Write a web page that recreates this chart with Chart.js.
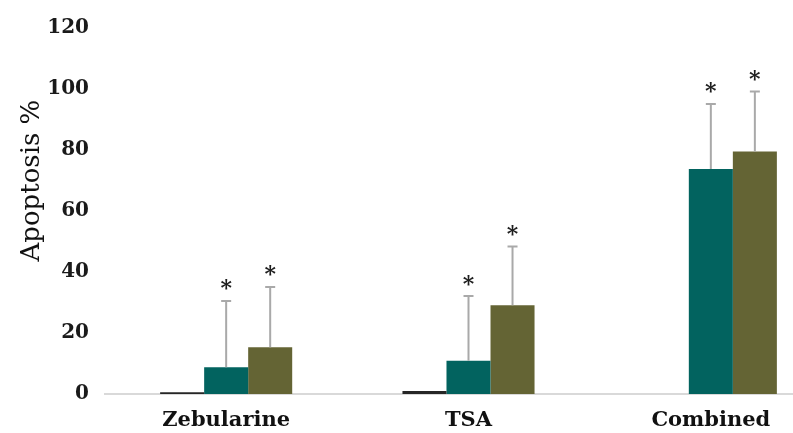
<!DOCTYPE html>
<html>
<head>
<meta charset="utf-8">
<script src="https://cdn.jsdelivr.net/npm/chart.js@4"></script>
<style>
  html, body { margin: 0; padding: 0; background: #fff; overflow: hidden; width: 793px; height: 433px; }
  #wrap { width: 793px; height: 433px; overflow: hidden; position: relative; }
  canvas { display: block; }
</style>
</head>
<body>
<div id="wrap"><canvas id="c" width="832" height="433"></canvas></div>
<script>
// Apoptosis (%) per treatment, three series per treatment
const categories = ['Zebularine', 'TSA', 'Combined'];
const controlValues = [0.6, 1.0, 0];
const lowDoseValues = [8.8, 10.9, 73.8];
const highDoseValues = [15.3, 29.1, 79.5];
// upper error (SD) for each bar
const lowDoseErrors = [21.7, 21.2, 21.3];
const highDoseErrors = [19.8, 19.3, 19.7];
// significance marks above the error bars
const lowDoseMarks = ['*', '*', '*'];
const highDoseMarks = ['*', '*', '*'];
const yTicks = [0, 20, 40, 60, 80, 100, 120];

const serif = '"DejaVu Serif", "Liberation Serif", serif';

// upper-only error bars with a cap, plus the significance mark above each cap
const errorBars = {
  id: 'errorBars',
  afterDatasetsDraw(chart) {
    const { ctx } = chart;
    const y = chart.scales.y;
    chart.data.datasets.forEach((ds, i) => {
      if (!ds.errors) return;
      const meta = chart.getDatasetMeta(i);
      meta.data.forEach((bar, j) => {
        const base = y.getPixelForValue(ds.data[j]);
        const top = y.getPixelForValue(ds.data[j] + ds.errors[j]);
        ctx.save();
        ctx.strokeStyle = '#a9a9a9';
        ctx.lineWidth = 2;
        ctx.beginPath();
        ctx.moveTo(bar.x, base);
        ctx.lineTo(bar.x, top);
        ctx.moveTo(bar.x - 5, top);
        ctx.lineTo(bar.x + 5, top);
        ctx.stroke();
        if (ds.marks && ds.marks[j]) {
          ctx.fillStyle = '#1e1e1e';
          ctx.font = 'bold 22px ' + serif;
          ctx.textAlign = 'center';
          ctx.textBaseline = 'alphabetic';
          const m = ctx.measureText(ds.marks[j]);
          // centre the glyph itself about 16px above the cap
          const mid = (m.actualBoundingBoxAscent - m.actualBoundingBoxDescent) / 2;
          ctx.fillText(ds.marks[j], bar.x, top - 16 + mid);
        }
        ctx.restore();
      });
    });
  }
};

// rotated y-axis title, set a little above the middle of the plot
const yTitle = {
  id: 'yTitle',
  afterDraw(chart) {
    const { ctx, chartArea } = chart;
    const cy = chartArea.top + (chartArea.bottom - chartArea.top) * 0.417;
    ctx.save();
    ctx.translate(32, cy);
    ctx.rotate(-Math.PI / 2);
    ctx.fillStyle = '#111';
    ctx.font = '26px ' + serif;
    ctx.textAlign = 'center';
    ctx.textBaseline = 'middle';
    ctx.fillText('Apoptosis %', 0, 0);
    ctx.restore();
  }
};

new Chart(document.getElementById('c'), {
  type: 'bar',
  data: {
    labels: categories,
    datasets: [
      { data: controlValues, backgroundColor: '#262626' },
      { data: lowDoseValues, backgroundColor: '#02635f', errors: lowDoseErrors, marks: lowDoseMarks },
      { data: highDoseValues, backgroundColor: '#646434', errors: highDoseErrors, marks: highDoseMarks }
    ]
  },
  options: {
    responsive: false,
    animation: false,
    events: [],
    categoryPercentage: 0.545,
    barPercentage: 1.0,
    layout: { padding: { top: 27, right: 0, bottom: 0, left: 0 } },
    plugins: { legend: { display: false }, tooltip: { enabled: false } },
    scales: {
      x: {
        grid: { display: false },
        border: { color: '#d9d9d9', width: 2 },
        ticks: { font: { family: serif, weight: 'bold', size: 21 }, color: '#111', padding: 6, maxRotation: 0 },
        afterFit(s) { s.height = 39; }
      },
      y: {
        min: 0,
        max: 120,
        afterBuildTicks(s) { s.ticks = yTicks.map(v => ({ value: v })); },
        ticks: { font: { family: serif, weight: 'bold', size: 20 }, color: '#1a1a1a', padding: 16 },
        grid: { display: false, drawTicks: false },
        border: { display: false },
        afterFit(s) { s.width = 105; }
      }
    }
  },
  plugins: [errorBars, yTitle]
});
</script>
</body>
</html>
